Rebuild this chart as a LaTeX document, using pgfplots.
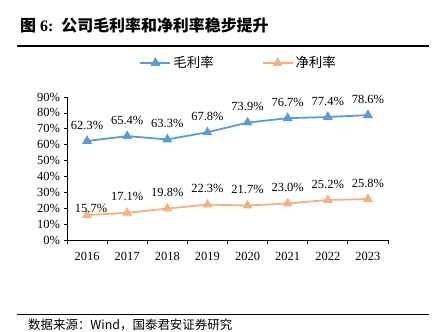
\documentclass[border=0pt]{standalone}
\usepackage{pgfplots}
\pgfplotsset{compat=1.18}
\usepackage{pgfplotstable}
\usepackage{fontspec}
\setmainfont{Liberation Serif}
\newfontfamily\cjk{Noto Sans CJK SC}
\definecolor{cblue}{HTML}{5B9BD5}
\definecolor{corange}{HTML}{F4B183}

\pgfplotstableread{
x y dx dy
0 62.3 0 16
1 65.4 0 16
2 63.3 0 16
3 67.8 0 16
4 73.9 0 16
5 76.7 0 16
6 77.4 0 16
7 78.6 0 16
}\gross
\pgfplotstableread{
x y dx dy
0 15.7 4 7
1 17.1 0 16
2 19.8 0 16
3 22.3 0 16
4 21.7 0 16
5 23.0 0 16
6 25.2 0 16
7 25.8 0 16
}\net

\begin{document}
\begin{tikzpicture}[x=1bp,y=1bp]
\path[use as bounding box] (0,0) rectangle (437,331);
\node[anchor=west, inner sep=0pt, font=\fontsize{16}{18}\selectfont\bfseries] at (20,306) {{\cjk 图} 6:\ \ {\cjk 公司毛利率和净利率稳步提升}};
\draw[line width=1.2bp] (17,285) -- (429,285);
\draw[line width=1bp] (17,17) -- (429,17);
\node[anchor=west, inner sep=0pt, font=\cjk\fontsize{12.5}{14}\selectfont] at (28,6.5) {数据来源：Wind，国泰君安证券研究};
\begin{axis}[
  at={(67bp,91bp)}, anchor=south west, scale only axis,
  width=321bp, height=143bp,
  xmin=-0.5, xmax=7.5, ymin=0, ymax=90,
  axis x line*=bottom, axis y line*=left,
  axis line style={line width=1bp, black, -},
  tick align=outside, major tick length=3.5bp,
  tick style={black, line width=0.8bp},
  xtick={-0.5,0.5,1.5,2.5,3.5,4.5,5.5,6.5,7.5},
  xticklabels={2016,2017,2018,2019,2020,2021,2022,2023,},
  xticklabel style={xshift=20.06bp, yshift=-5bp},
  ytick={0,10,...,90},
  yticklabel={\pgfmathprintnumber{\tick}\%},
  ticklabel style={font=\fontsize{12.5}{14}\selectfont},
  /pgf/number format/assume math mode=true,
  legend style={draw=none, fill=none, legend columns=2, at={(0.535,1.238)}, anchor=center,
    font=\cjk\fontsize{13.5}{15}\selectfont,
    /tikz/every even column/.append style={column sep=46bp},
    nodes={inner xsep=2bp}},
  legend image code/.code={\draw[mark repeat=2,mark phase=2,#1] plot coordinates {(0bp,0bp) (15bp,0bp) (30bp,0bp)};},
  nodes near coords={\pgfmathprintnumber[fixed,precision=1,fixed zerofill]{\pgfplotspointmeta}\%},
  point meta=y,
  visualization depends on={\thisrow{dx} \as \dx},
  visualization depends on={\thisrow{dy} \as \dy},
  every node near coord/.append style={anchor=center, xshift={\dx*1bp}, yshift={\dy*1bp}, text=black, font=\fontsize{12.5}{14}\selectfont, /pgf/number format/assume math mode=true},
]
\addplot[cblue, line width=1.8bp, mark=triangle*, mark size=4bp] table[x=x,y=y] {\gross};
\addlegendentry{毛利率}
\addplot[corange, line width=1.8bp, mark=triangle*, mark size=4bp] table[x=x,y=y] {\net};
\addlegendentry{净利率}
\end{axis}
\end{tikzpicture}
\end{document}
